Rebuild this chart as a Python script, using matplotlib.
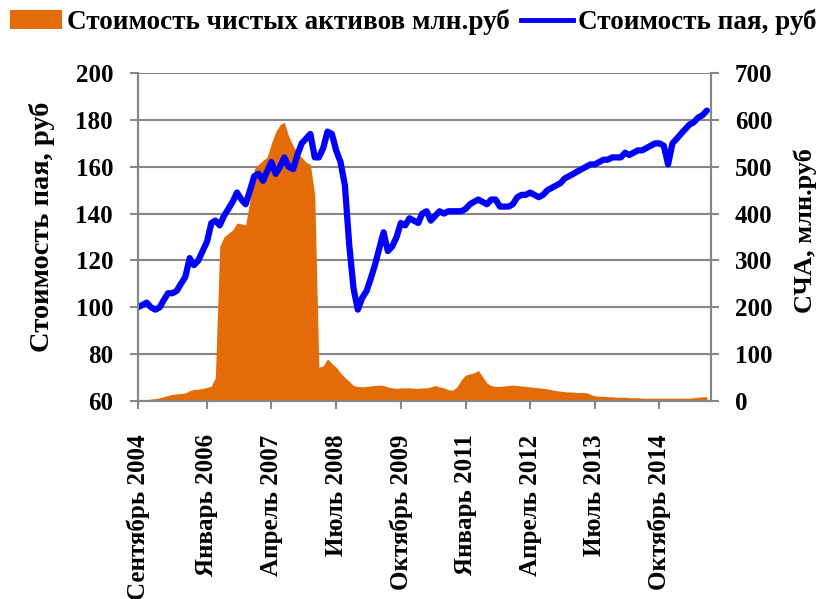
import matplotlib
matplotlib.use("Agg")
import matplotlib.pyplot as plt
import pandas as pd
from matplotlib.patches import Patch
from matplotlib.lines import Line2D

plt.rcParams['font.family'] = ['Liberation Serif', 'DejaVu Serif']
plt.rcParams['font.weight'] = 'bold'

# monthly data, Sep 2004 .. Sep 2015
dates = pd.date_range('2004-09-01', periods=133, freq='MS')

# unit price, rub (left axis)
unit_price = [100, 101, 102, 100, 99, 100, 103, 106, 106, 107, 110, 113, 121, 118, 120,
              124, 128, 136, 137, 135, 139, 142, 145, 149, 146, 144, 150, 156, 157, 154,
              158, 162, 157, 160, 164, 160, 159, 165, 170, 172, 174, 164, 164, 168, 175,
              174, 167, 162, 152, 127, 108, 99, 104, 107, 112, 118, 125, 132, 124, 126,
              130, 136, 135, 138, 137, 136, 140, 141, 137, 139, 141, 140, 141, 141, 141,
              141, 142, 144, 145, 146, 145, 144, 146, 146, 143, 143, 143, 144, 147, 148,
              148, 149, 148, 147, 148, 150, 151, 152, 153, 155, 156, 157, 158, 159, 160,
              161, 161, 162, 163, 163, 164, 164, 164, 166, 165, 166, 167, 167, 168, 169,
              170, 170, 169, 161, 170, 172, 174, 176, 178, 179, 181, 182, 184]

# net asset value, mln rub (right axis)
net_assets = [1, 2, 3, 4, 5, 7, 9, 12, 14, 15, 16, 17, 22, 25, 25, 27, 29, 32, 50, 330,
              350, 358, 365, 380, 378, 376, 430, 495, 505, 514, 520, 550, 575, 590, 595,
              565, 545, 530, 520, 510, 505, 440, 72, 75, 90, 80, 72, 60, 50, 42, 33, 31,
              30, 31, 32, 33, 34, 33, 30, 28, 27, 28, 28, 28, 27, 27, 28, 28, 30, 33, 30,
              28, 24, 23, 30, 45, 55, 58, 60, 65, 52, 38, 33, 31, 31, 32, 33, 34, 33, 32,
              31, 30, 29, 28, 27, 26, 24, 22, 21, 20, 19, 19, 18, 18, 18, 14, 11, 10, 10,
              9, 9, 8, 8, 8, 7, 7, 7, 6, 6, 6, 6, 6, 6, 6, 6, 6, 6, 6, 6, 7, 8, 9, 9]

tick_dates = pd.to_datetime(['2004-09-01', '2006-01-01', '2007-04-01', '2008-07-01',
                             '2009-10-01', '2011-01-01', '2012-04-01', '2013-07-01',
                             '2014-10-01'])
tick_labels = ['Сентябрь 2004', 'Январь 2006', 'Апрель 2007', 'Июль 2008',
               'Октябрь 2009', 'Январь 2011', 'Апрель 2012', 'Июль 2013',
               'Октябрь 2014']

orange = '#E36C09'
grey = '#868686'
fs = 18

fig = plt.figure(figsize=(8.24, 5.99), dpi=100)
ax = fig.add_axes([0.1675, 0.3306, 0.6955, 0.5474])
ax2 = ax.twinx()
ax.set_zorder(ax2.get_zorder() + 1)
ax.patch.set_visible(False)

# area (right axis) with the grid behind it
ax2.fill_between(dates, net_assets, 0, color=orange, linewidth=0, zorder=2)
ax2.set_ylim(0, 700)
ax2.set_yticks(range(0, 701, 100))
ax2.grid(axis='y', color=grey, linewidth=1.5, zorder=0)
ax2.set_axisbelow(True)

# unit price line (left axis)
ax.plot(dates, unit_price, color='#0000FF', linewidth=4.5, solid_capstyle='round')
ax.set_ylim(60, 200)
ax.set_yticks(range(60, 201, 20))

ax.set_xlim(pd.Timestamp('2004-09-01'), pd.Timestamp('2015-10-01'))
ax.set_xticks(tick_dates)
ax.set_xticklabels(tick_labels, rotation=90, fontsize=fs, fontweight='bold')

for a in (ax, ax2):
    for s in a.spines.values():
        s.set_color(grey)
        s.set_linewidth(1.5)
    a.spines['top'].set_visible(False)
    a.tick_params(colors=grey, width=1.5, length=6, labelcolor='black', labelsize=fs)
ax.tick_params(axis='y', pad=12)
ax.tick_params(axis='x', pad=18)
ax2.tick_params(axis='y', pad=11)
for lbl in ax.get_yticklabels() + ax2.get_yticklabels():
    lbl.set_fontweight('bold')

ax.set_ylabel('Стоимость пая, руб', fontsize=20.5, fontweight='bold')
ax.yaxis.set_label_coords(-0.145, 0.53)
ax2.set_ylabel('СЧА, млн.руб', fontsize=19, fontweight='bold')
ax2.yaxis.set_label_coords(1.143, 0.52)

handles = [Patch(facecolor=orange, edgecolor='none'),
           Line2D([], [], color='#0000FF', linewidth=3.5)]
fig.legend(handles, ['Стоимость чистых активов млн.руб', 'Стоимость пая, руб'],
           loc='upper left', bbox_to_anchor=(0.012, 0.985), ncol=2, frameon=False,
           prop={'size': 19.5, 'weight': 'bold'}, handlelength=1.92, handletextpad=0.18,
           columnspacing=0.44, borderaxespad=0.0, borderpad=0.0)

plt.savefig('out.png', dpi=100)
